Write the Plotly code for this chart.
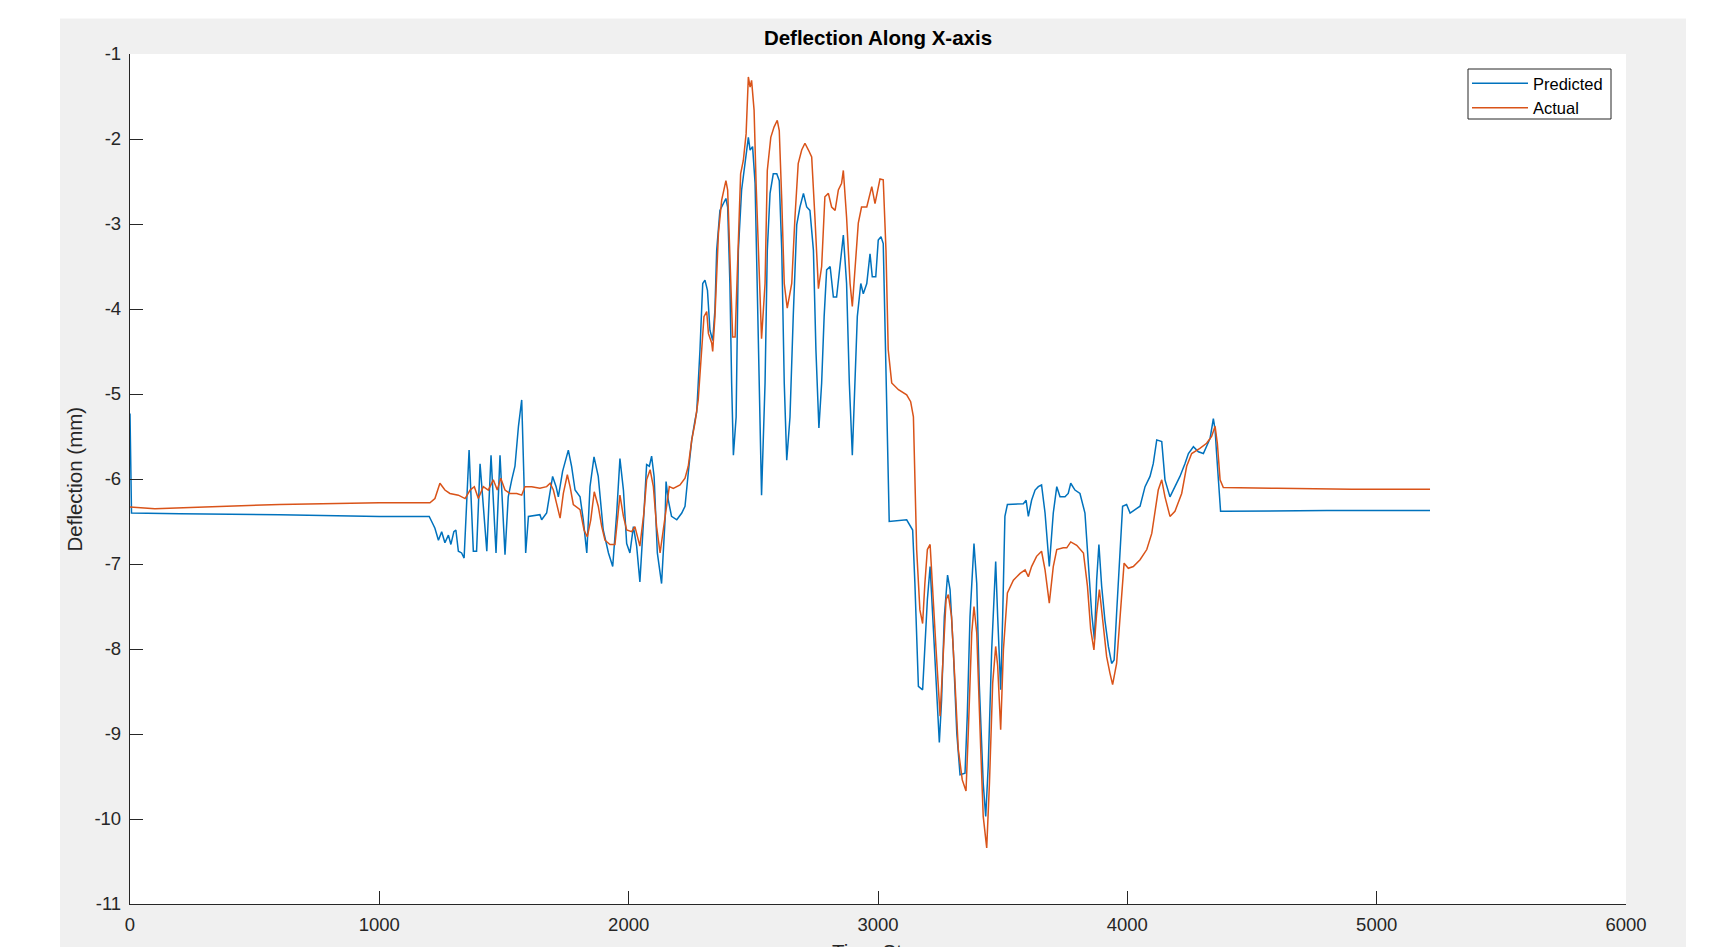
import plotly.graph_objects as go

# ---------------- data ----------------
pred_x = [0, 6, 200, 600, 1000, 1200, 1210, 1223, 1237, 1250, 1263, 1277, 1287, 1299, 1307, 1317, 1330, 1340,
          1360, 1377, 1390, 1404, 1431, 1448, 1468, 1484, 1504, 1517, 1531, 1544, 1558, 1571, 1580, 1587, 1598,
          1644, 1651, 1671, 1695, 1709, 1718, 1735, 1758, 1771, 1785, 1805, 1818, 1832, 1845, 1861, 1878, 1898,
          1919, 1936, 1952, 1965, 1979, 1992, 2005, 2019, 2032, 2045, 2059, 2072, 2083, 2092, 2102, 2115, 2132,
          2146, 2150, 2159, 2172, 2193, 2213, 2226, 2239, 2253, 2266, 2273, 2286, 2297, 2306, 2316, 2326, 2337,
          2346, 2353, 2366, 2380, 2390, 2397, 2406, 2413, 2420, 2431, 2440, 2453, 2467, 2480, 2487, 2497, 2507,
          2513, 2524, 2533, 2547, 2556, 2567, 2580, 2594, 2604, 2614, 2624, 2634, 2647, 2660, 2674, 2687, 2701,
          2714, 2727, 2741, 2751, 2763, 2774, 2784, 2794, 2808, 2821, 2834, 2848, 2861, 2874, 2885, 2897, 2908,
          2917, 2931, 2941, 2955, 2968, 2977, 2991, 3001, 3012, 3021, 3028, 3035, 3045, 3115, 3128, 3139, 3148,
          3162, 3179, 3188, 3198, 3209, 3219, 3233, 3246, 3255, 3266, 3279, 3289, 3302, 3316, 3329, 3349, 3358,
          3369, 3385, 3396, 3406, 3422, 3432, 3442, 3456, 3472, 3480, 3492, 3500, 3509, 3519, 3583, 3594, 3603,
          3616, 3630, 3643, 3656, 3670, 3687, 3703, 3717, 3730, 3750, 3763, 3773, 3790, 3810, 3830, 3844, 3857,
          3868, 3877, 3886, 3897, 3910, 3924, 3937, 3947, 3957, 3971, 3981, 3997, 4011, 4031, 4051, 4071, 4091,
          4104, 4118, 4138, 4151, 4171, 4191, 4211, 4231, 4245, 4265, 4285, 4305, 4318, 4332, 4345, 4352, 4358,
          4365, 4374, 4392, 4800, 5214]
pred_y = [-5.23, -6.40, -6.41, -6.42, -6.44, -6.44, -6.50, -6.58, -6.72, -6.62, -6.75, -6.66, -6.77, -6.62,
          -6.60, -6.85, -6.87, -6.93, -5.66, -6.85, -6.85, -5.82, -6.85, -5.72, -6.87, -5.72, -6.89, -6.21, -6.01,
          -5.85, -5.38, -5.07, -6.01, -6.87, -6.44, -6.42, -6.48, -6.40, -5.97, -6.09, -6.21, -5.91, -5.66, -5.85,
          -6.13, -6.21, -6.48, -6.87, -6.09, -5.74, -5.97, -6.60, -6.87, -7.03, -6.40, -5.76, -6.13, -6.76, -6.87,
          -6.56, -6.79, -7.21, -6.52, -5.83, -5.85, -5.73, -5.97, -6.87, -7.23, -6.48, -6.03, -6.25, -6.44, -6.48,
          -6.40, -6.32, -5.93, -5.54, -5.31, -5.21, -4.48, -3.70, -3.66, -3.78, -4.25, -4.37, -4.01, -3.31, -2.84,
          -2.76, -2.70, -2.80, -3.70, -4.87, -5.72, -5.27, -3.31, -2.60, -2.29, -1.98, -2.13, -2.09, -2.52, -3.31,
          -4.87, -6.19, -4.87, -3.31, -2.64, -2.41, -2.41, -2.49, -3.31, -4.87, -5.78, -5.27, -4.09, -3.01, -2.80,
          -2.64, -2.80, -2.84, -3.31, -4.48, -5.40, -4.87, -4.09, -3.54, -3.50, -3.86, -3.86, -3.50, -3.13, -3.70,
          -4.87, -5.72, -4.87, -4.09, -3.70, -3.82, -3.70, -3.35, -3.62, -3.62, -3.19, -3.15, -3.23, -4.09, -5.27,
          -6.50, -6.48, -6.54, -6.60, -7.23, -8.44, -8.48, -8.01, -7.42, -7.03, -7.62, -8.40, -9.10, -8.60, -7.62,
          -7.13, -7.30, -8.01, -8.99, -9.48, -9.46, -8.79, -7.62, -6.76, -7.23, -8.40, -9.58, -9.97, -9.38, -8.01,
          -6.97, -7.62, -8.48, -7.62, -6.44, -6.30, -6.29, -6.25, -6.44, -6.25, -6.13, -6.09, -6.07, -6.40, -7.03,
          -6.40, -6.09, -6.21, -6.21, -6.17, -6.05, -6.13, -6.17, -6.40, -7.03, -7.58, -7.89, -7.19, -6.77, -7.26,
          -7.66, -7.97, -8.17, -8.13, -7.58, -6.79, -6.32, -6.30, -6.40, -6.36, -6.32, -6.09, -5.97, -5.82, -5.54,
          -5.56, -6.01, -6.21, -6.09, -5.97, -5.82, -5.70, -5.62, -5.68, -5.70, -5.62, -5.52, -5.29, -5.42, -5.70,
          -6.01, -6.38, -6.38, -6.37, -6.37]

act_x = [0, 100, 300, 600, 1000, 1203, 1223, 1243, 1263, 1283, 1317, 1344, 1364, 1381, 1397, 1417, 1437, 1457,
         1473, 1487, 1504, 1524, 1551, 1571, 1584, 1611, 1644, 1671, 1685, 1698, 1711, 1725, 1738, 1754, 1765,
         1778, 1805, 1821, 1834, 1848, 1862, 1878, 1892, 1905, 1925, 1945, 1955, 1965, 1979, 1992, 2012, 2025,
         2045, 2061, 2072, 2086, 2099, 2112, 2126, 2136, 2150, 2163, 2179, 2206, 2226, 2239, 2253, 2266, 2279,
         2293, 2302, 2313, 2320, 2333, 2337, 2346, 2360, 2373, 2382, 2390, 2397, 2406, 2417, 2427, 2436, 2449,
         2460, 2471, 2480, 2487, 2493, 2503, 2511, 2520, 2533, 2547, 2556, 2570, 2583, 2596, 2604, 2614, 2624,
         2636, 2654, 2667, 2680, 2694, 2707, 2721, 2734, 2747, 2761, 2774, 2787, 2801, 2814, 2828, 2841, 2854,
         2861, 2874, 2888, 2897, 2908, 2921, 2934, 2955, 2975, 2988, 3008, 3021, 3032, 3041, 3055, 3082, 3115,
         3131, 3142, 3148, 3155, 3168, 3179, 3188, 3198, 3209, 3219, 3233, 3249, 3259, 3273, 3282, 3295, 3309,
         3322, 3338, 3353, 3362, 3376, 3385, 3396, 3412, 3422, 3436, 3447, 3460, 3472, 3480, 3492, 3503, 3519,
         3543, 3570, 3590, 3603, 3616, 3636, 3656, 3670, 3687, 3703, 3717, 3743, 3757, 3773, 3797, 3824, 3840,
         3853, 3866, 3877, 3888, 3904, 3917, 3930, 3941, 3957, 3971, 3987, 4004, 4024, 4051, 4078, 4098, 4111,
         4124, 4138, 4151, 4171, 4191, 4218, 4238, 4258, 4291, 4318, 4338, 4352, 4361, 4372, 4385, 4600, 4900,
         5214]
act_y = [-6.33, -6.35, -6.33, -6.30, -6.28, -6.28, -6.23, -6.05, -6.13, -6.17, -6.19, -6.23, -6.13, -6.09, -6.23,
         -6.09, -6.13, -6.01, -6.13, -5.99, -6.13, -6.17, -6.17, -6.19, -6.09, -6.09, -6.11, -6.09, -6.05, -6.13,
         -6.29, -6.46, -6.17, -5.95, -6.09, -6.30, -6.36, -6.60, -6.68, -6.48, -6.15, -6.32, -6.56, -6.72, -6.77,
         -6.77, -6.48, -6.19, -6.44, -6.60, -6.62, -6.56, -6.79, -6.40, -6.01, -5.89, -6.09, -6.56, -6.87, -6.64,
         -6.32, -6.09, -6.11, -6.07, -5.99, -5.85, -5.54, -5.34, -5.07, -4.48, -4.09, -4.03, -4.29, -4.40, -4.50,
         -4.09, -3.11, -2.72, -2.60, -2.49, -2.60, -3.31, -4.33, -4.33, -3.50, -2.41, -2.25, -1.94, -1.27, -1.39,
         -1.31, -1.66, -2.52, -3.31, -4.35, -3.70, -2.37, -1.98, -1.86, -1.78, -1.90, -2.72, -3.70, -3.99, -3.70,
         -2.92, -2.29, -2.13, -2.05, -2.13, -2.21, -2.92, -3.76, -3.50, -2.68, -2.64, -2.80, -2.84, -2.60, -2.52,
         -2.37, -2.92, -3.70, -3.97, -3.50, -2.99, -2.80, -2.80, -2.56, -2.76, -2.47, -2.48, -3.31, -4.48, -4.87,
         -4.95, -5.01, -5.09, -5.27, -6.05, -6.83, -7.54, -7.70, -7.23, -6.83, -6.77, -7.23, -8.01, -8.79, -8.20,
         -7.42, -7.36, -7.62, -8.40, -9.18, -9.54, -9.67, -8.99, -7.81, -7.50, -7.81, -9.18, -9.97, -10.34, -9.58,
         -8.40, -7.97, -8.20, -8.95, -8.01, -7.34, -7.19, -7.11, -7.07, -7.15, -7.03, -6.91, -6.85, -7.07, -7.46,
         -7.03, -6.83, -6.81, -6.81, -6.74, -6.78, -6.87, -7.26, -7.77, -8.01, -7.58, -7.30, -7.70, -8.09, -8.28,
         -8.42, -8.17, -7.58, -6.99, -7.05, -7.03, -6.95, -6.83, -6.64, -6.40, -6.13, -6.01, -6.21, -6.44, -6.38,
         -6.17, -5.85, -5.70, -5.64, -5.58, -5.50, -5.38, -5.58, -6.01, -6.10, -6.11, -6.12, -6.12]

x_ticks = [0, 1000, 2000, 3000, 4000, 5000, 6000]
x_tick_labels = ["0", "1000", "2000", "3000", "4000", "5000", "6000"]
y_ticks = [-11, -10, -9, -8, -7, -6, -5, -4, -3, -2, -1]
y_tick_labels = ["-11", "-10", "-9", "-8", "-7", "-6", "-5", "-4", "-3", "-2", "-1"]

# ---------------- layout geometry ----------------
W, H = 1715, 947
L, R, T, B = 130, 89, 54, 43
PW, PH = W - L - R, H - T - B


def px(xp):
    return (xp - L) / PW


def py(yp):
    return (H - B - yp) / PH


AX = "#262626"
FONT = "Liberation Sans, Arial, Helvetica, sans-serif"

fig = go.Figure()
fig.add_trace(go.Scatter(x=pred_x, y=pred_y, mode="lines", name="Predicted",
                         line=dict(color="#0072BD", width=1.5)))
fig.add_trace(go.Scatter(x=act_x, y=act_y, mode="lines", name="Actual",
                         line=dict(color="#D95319", width=1.5)))

axis_common = dict(ticks="inside", ticklen=13, tickwidth=1, tickcolor=AX,
                   showline=True, linecolor=AX, linewidth=1.3, mirror=False,
                   showgrid=False, zeroline=False,
                   tickfont=dict(family=FONT, size=18.5, color=AX))

fig.update_layout(
    width=W, height=H,
    margin=dict(l=L, r=R, t=T, b=B, pad=0, autoexpand=False),
    paper_bgcolor="#f0f0f0", plot_bgcolor="white",
    font=dict(family=FONT, color=AX),
    title=dict(text="<b>Deflection Along X-axis</b>", font=dict(family=FONT, size=20.5, color="black"),
               x=0.5, xref="paper", xanchor="center", y=1 - 37.5 / H, yref="container", yanchor="middle"),
    xaxis=dict(range=[0, 6000], tickvals=x_ticks, ticktext=x_tick_labels, ticklabelstandoff=4, **axis_common),
    yaxis=dict(range=[-11, -1], tickvals=y_ticks, ticktext=y_tick_labels, ticklabelstandoff=4, **axis_common),
    showlegend=True,
    legend=dict(x=px(1467), xanchor="left", y=py(66), yanchor="top",
                bgcolor="rgba(0,0,0,0)", borderwidth=0,
                font=dict(family=FONT, size=16.5, color="black"), itemwidth=56, tracegroupgap=0),
    annotations=[
        dict(text="Deflection (mm)", textangle=-90, x=px(73.5), y=0.5, xref="paper", yref="paper",
             xanchor="center", yanchor="middle", showarrow=False, font=dict(family=FONT, size=20.5, color=AX)),
        dict(text="Time Step", x=0.5, y=py(938), xref="paper", yref="paper",
             xanchor="center", yanchor="top", showarrow=False, font=dict(family=FONT, size=20.5, color=AX)),
    ],
    shapes=[
        # legend frame
        dict(type="rect", xref="paper", yref="paper", x0=px(1468), x1=px(1611), y0=py(119), y1=py(69),
             fillcolor="white", line=dict(color=AX, width=1), layer="below"),
        # white surround outside the grey figure window
        dict(type="rect", xref="paper", yref="paper", x0=px(-5), x1=px(60), y0=py(H + 5), y1=py(-5),
             fillcolor="white", line=dict(width=0), layer="above"),
        dict(type="rect", xref="paper", yref="paper", x0=px(-5), x1=px(W + 5), y0=py(18.5), y1=py(-5),
             fillcolor="white", line=dict(width=0), layer="above"),
        dict(type="rect", xref="paper", yref="paper", x0=px(1686), x1=px(W + 5), y0=py(H + 5), y1=py(-5),
             fillcolor="white", line=dict(width=0), layer="above"),
    ],
)

fig.write_html("out.html", config={"displayModeBar": False},
               post_script="document.body.style.margin='0';document.body.style.overflow='hidden';")
